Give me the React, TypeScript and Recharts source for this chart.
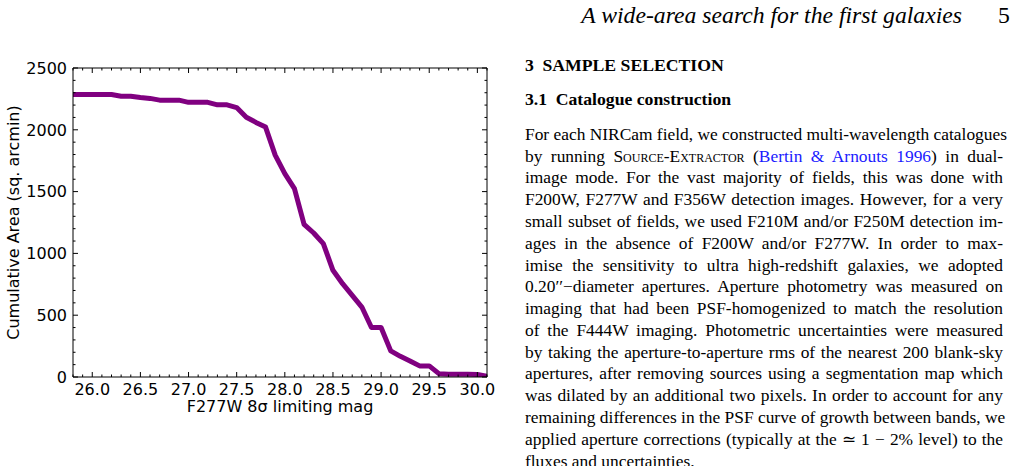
import React from "react";
import { Line, LineChart, XAxis, YAxis } from "recharts";

// F277W 8-sigma limiting magnitude vs cumulative survey area
const magnitudes = [
  25.8, 25.9, 26.0, 26.1, 26.2, 26.3, 26.4, 26.5, 26.6, 26.7, 26.8, 26.9, 27.0, 27.1, 27.2,
  27.3, 27.4, 27.5, 27.6, 27.7, 27.8, 27.9, 28.0, 28.1, 28.2, 28.3, 28.4, 28.5, 28.6, 28.7,
  28.8, 28.9, 29.0, 29.1, 29.2, 29.3, 29.4, 29.5, 29.6, 29.7, 29.8, 29.9, 30.0, 30.1,
];
const cumulativeArea = [
  2285, 2285, 2285, 2285, 2285, 2272, 2272, 2262, 2254, 2240, 2240, 2240, 2222, 2222, 2222,
  2202, 2202, 2180, 2102, 2060, 2022, 1795, 1645, 1524, 1235, 1165, 1079, 863, 755, 661,
  566, 400, 400, 211, 167, 130, 90, 90, 27, 22, 22, 22, 20, 5,
];

const xMajorTicks = [26.0, 26.5, 27.0, 27.5, 28.0, 28.5, 29.0, 29.5, 30.0];
const xMinorTicks = magnitudes;
const yMajorTicks = [0, 500, 1000, 1500, 2000, 2500];
const yMinorTicks = [
  0, 100, 200, 300, 400, 500, 600, 700, 800, 900, 1000, 1100, 1200, 1300, 1400, 1500, 1600,
  1700, 1800, 1900, 2000, 2100, 2200, 2300, 2400, 2500,
];

const data = magnitudes.map((mag, i) => ({ mag, area: cumulativeArea[i] }));

const PLOT = { left: 73, right: 487, top: 68, bottom: 377 };
const CHART_W = 500;
const CHART_H = 466;
const AXIS_FONT = "'DejaVu Sans', sans-serif";
const MAJOR = 5;
const MINOR = 2.5;

const isIn = (list: number[], v: number) => list.some((t) => Math.abs(t - v) < 1e-6);

function BottomTick({ x, y, payload }: any) {
  const major = isIn(xMajorTicks, payload.value);
  return (
    <g>
      <line x1={x} x2={x} y1={y} y2={y - (major ? MAJOR : MINOR)} stroke="#000" strokeWidth={1} />
      {major && (
        <text x={x} y={y + 17.5} textAnchor="middle" fontFamily={AXIS_FONT} fontSize={16} fill="#000">
          {Number(payload.value).toFixed(1)}
        </text>
      )}
    </g>
  );
}

function TopTick({ x, y, payload }: any) {
  const major = isIn(xMajorTicks, payload.value);
  return <line x1={x} x2={x} y1={y} y2={y + (major ? MAJOR : MINOR)} stroke="#000" strokeWidth={1} />;
}

function LeftTick({ x, y, payload }: any) {
  const major = isIn(yMajorTicks, payload.value);
  return (
    <g>
      <line x1={x} x2={x + (major ? MAJOR : MINOR)} y1={y} y2={y} stroke="#000" strokeWidth={1} />
      {major && (
        <text x={x - 6} y={y} dy="0.36em" textAnchor="end" fontFamily={AXIS_FONT} fontSize={16} fill="#000">
          {payload.value}
        </text>
      )}
    </g>
  );
}

function RightTick({ x, y, payload }: any) {
  const major = isIn(yMajorTicks, payload.value);
  return <line x1={x} x2={x - (major ? MAJOR : MINOR)} y1={y} y2={y} stroke="#000" strokeWidth={1} />;
}

function XTitle() {
  return (
    <text x={(PLOT.left + PLOT.right) / 2} y={412} textAnchor="middle" fontFamily={AXIS_FONT} fontSize={16} fill="#000">
      F277W 8σ limiting mag
    </text>
  );
}

function YTitle() {
  const cy = (PLOT.top + PLOT.bottom) / 2;
  return (
    <text x={18.5} y={cy} transform={`rotate(-90 18.5 ${cy})`} textAnchor="middle" fontFamily={AXIS_FONT} fontSize={16} fill="#000">
      Cumulative Area (sq. arcmin)
    </text>
  );
}

function AreaChartPanel() {
  return (
    <LineChart
      width={CHART_W}
      height={CHART_H}
      data={data}
      margin={{ top: PLOT.top - 1, right: CHART_W - PLOT.right - 1, bottom: 0, left: 0 }}
    >
      <XAxis xAxisId="bottom" dataKey="mag" type="number" domain={[25.8, 30.1]} allowDataOverflow
        ticks={xMinorTicks} interval={0} tickSize={0} tickMargin={0} tick={<BottomTick />}
        axisLine={{ stroke: "#000" }} height={CHART_H - PLOT.bottom} label={<XTitle />} />
      <XAxis xAxisId="top" orientation="top" dataKey="mag" type="number" domain={[25.8, 30.1]} allowDataOverflow
        ticks={xMinorTicks} interval={0} tickSize={0} tickMargin={0} tick={<TopTick />}
        axisLine={{ stroke: "#000" }} height={1} />
      <YAxis yAxisId="left" type="number" domain={[0, 2500]} allowDataOverflow
        ticks={yMinorTicks} interval={0} tickSize={0} tickMargin={0} tick={<LeftTick />}
        axisLine={{ stroke: "#000" }} width={PLOT.left} label={<YTitle />} />
      <YAxis yAxisId="right" orientation="right" type="number" domain={[0, 2500]} allowDataOverflow
        ticks={yMinorTicks} interval={0} tickSize={0} tickMargin={0} tick={<RightTick />}
        axisLine={{ stroke: "#000" }} width={1} />
      <Line xAxisId="bottom" yAxisId="left" type="linear" dataKey="area" stroke="#800080"
        strokeWidth={5} strokeLinejoin="round" dot={false} activeDot={false} isAnimationActive={false} />
    </LineChart>
  );
}

// Page text column
const SERIF = "'Liberation Serif', 'Times New Roman', serif";
const topFor = (baseline: number, fs: number, lh: number) => baseline - ((lh - 1.107 * fs) / 2 + 0.891 * fs);

const BODY_FS = 17.4;
const BODY_LH = 21.8;
const HEAD_FS = 17.7;
const TITLE_FS = 23.7;

const bodyLines: React.ReactNode[] = [
  "For each NIRCam field, we constructed multi-wavelength catalogues",
  <>
    by running <span style={{ fontVariant: "small-caps" }}>Source-Extractor</span> (
    <span style={{ color: "#1a1aff" }}>Bertin &amp; Arnouts 1996</span>) in dual-
  </>,
  "image mode. For the vast majority of fields, this was done with",
  "F200W, F277W and F356W detection images. However, for a very",
  "small subset of fields, we used F210M and/or F250M detection im-",
  "ages in the absence of F200W and/or F277W. In order to max-",
  "imise the sensitivity to ultra high-redshift galaxies, we adopted",
  "0.20′′−diameter apertures. Aperture photometry was measured on",
  "imaging that had been PSF-homogenized to match the resolution",
  "of the F444W imaging. Photometric uncertainties were measured",
  "by taking the aperture-to-aperture rms of the nearest 200 blank-sky",
  "apertures, after removing sources using a segmentation map which",
  "was dilated by an additional two pixels. In order to account for any",
  "remaining differences in the PSF curve of growth between bands, we",
  "applied aperture corrections (typically at the ≃ 1 − 2% level) to the",
];
const lastLine = "fluxes and uncertainties.";

function TextColumn() {
  const left = 525;
  const width = 478;
  return (
    <>
      <div style={{ position: "absolute", right: 1017 - 962, top: topFor(22.7, TITLE_FS, 28), fontFamily: SERIF,
        fontSize: TITLE_FS, lineHeight: "28px", fontStyle: "italic", whiteSpace: "nowrap" }}>
        A wide-area search for the first galaxies
      </div>
      <div style={{ position: "absolute", left: 998, top: topFor(22.7, TITLE_FS, 28), fontFamily: SERIF,
        fontSize: TITLE_FS, lineHeight: "28px" }}>
        5
      </div>
      <div style={{ position: "absolute", left, top: topFor(71.7, HEAD_FS, 21.2), fontFamily: SERIF,
        fontSize: HEAD_FS, lineHeight: "21.2px", fontWeight: "bold", whiteSpace: "nowrap" }}>
        <span style={{ marginRight: 8.6 }}>3</span>SAMPLE SELECTION
      </div>
      <div style={{ position: "absolute", left, top: topFor(106, HEAD_FS, 21.2), fontFamily: SERIF,
        fontSize: HEAD_FS, lineHeight: "21.2px", fontWeight: "bold", whiteSpace: "nowrap" }}>
        <span style={{ marginRight: 8.6 }}>3.1</span>Catalogue construction
      </div>
      <div style={{ position: "absolute", left, width, top: topFor(140.5, BODY_FS, BODY_LH), fontFamily: SERIF,
        fontSize: BODY_FS, lineHeight: `${BODY_LH}px`, color: "#000" }}>
        {bodyLines.map((line, i) => (
          <div key={i} style={{ whiteSpace: "nowrap", textAlign: "justify", textAlignLast: "justify" }}>
            {line}
          </div>
        ))}
        <div style={{ whiteSpace: "nowrap" }}>{lastLine}</div>
      </div>
    </>
  );
}

export default function App() {
  return (
    <div style={{ position: "absolute", left: 0, top: 0, width: 1017, height: 466, overflow: "hidden", background: "#fff" }}>
      <div style={{ position: "absolute", left: 0, top: 0 }}>
        <AreaChartPanel />
      </div>
      <TextColumn />
    </div>
  );
}
